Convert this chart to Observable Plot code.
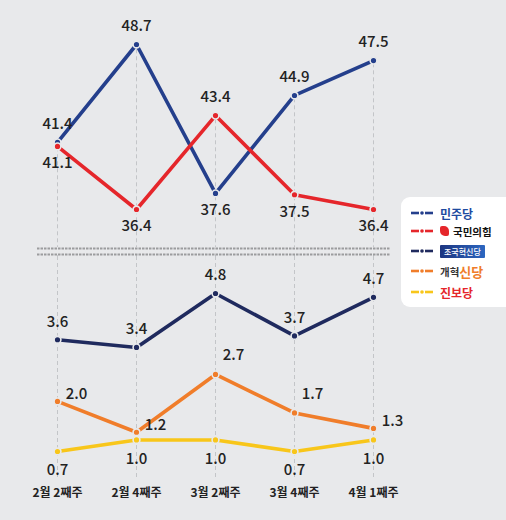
<!DOCTYPE html>
<html>
<head>
<meta charset="utf-8">
<script src="https://cdn.jsdelivr.net/npm/d3@7"></script>
<script src="https://cdn.jsdelivr.net/npm/@observablehq/plot@0.6"></script>
<style>
  body { margin: 0; background: #e8e9eb; font-family: "Noto Sans CJK KR", sans-serif; }
  #chart { position: relative; width: 506px; height: 520px; overflow: hidden; }
  #chart svg.plot { display: block; }
  #brk { position: absolute; left: 0; top: 244px; }
  #legend { position: absolute; left: 401px; top: 197px; width: 115px; height: 110px;
    background: #fff; border-radius: 9px; }
  .row { position: absolute; left: 10px; height: 18px; display: flex; align-items: center; font-weight: 700; }
  .row svg { margin-right: 7px; }
  .logo-box { background: linear-gradient(90deg, #1d3580, #2c66c0); color: #fff; font-size: 8px;
    padding: 1px 4px; border-radius: 1px; font-weight: 500; }
</style>
</head>
<body>
<div id="chart"></div>
<script>
// poll values
const weeks = ["2월 2째주", "2월 4째주", "3월 2째주", "3월 4째주", "4월 1째주"];
const parties = ["민주당", "국민의힘", "조국혁신당", "개혁신당", "진보당"];
const minjoo = [41.4, 48.7, 37.6, 44.9, 47.5];
const ppp = [41.1, 36.4, 43.4, 37.5, 36.4];
const rebuild = [3.6, 3.4, 4.8, 3.7, 4.7];
const reform = [2.0, 1.2, 2.7, 1.7, 1.3];
const progressive = [0.7, 1.0, 1.0, 0.7, 1.0];

const colors = ["#243f8c", "#e5262b", "#1f2a5e", "#f07d2a", "#f8c61a"];
const bg = "#e8e9eb";
const grid = "#c3c5c8";

function rows(party, values) {
  return values.map((v, i) => ({week: weeks[i], party, value: v, i}));
}

// top panel: the two big parties, label on the outside of each pair
const topRows = [...rows("민주당", minjoo), ...rows("국민의힘", ppp)];
topRows.forEach(d => {
  const other = d.party === "민주당" ? ppp[d.i] : minjoo[d.i];
  d.above = d.value >= other;
});
const bottomRows = [...rows("조국혁신당", rebuild), ...rows("개혁신당", reform), ...rows("진보당", progressive)];

const color = {domain: parties, range: colors};
const x = {type: "point", domain: weeks, range: [57, 373], padding: 0, axis: null};
const label = {fill: "#222", fontSize: 15, fontWeight: 500, text: d => d.value.toFixed(1)};

const chart = document.getElementById("chart");

const topPlot = Plot.plot({
  width: 400, height: 256,
  marginLeft: 37, marginRight: 10, marginTop: 0, marginBottom: 0,
  x, color,
  y: {domain: [36.4, 48.7], range: [209, 44], axis: null},
  style: {background: "transparent", overflow: "visible", fontFamily: "Noto Sans CJK KR"},
  marks: [
    // from the column's highest point down (zero baseline, clipped at panel edge)
    Plot.ruleX(weeks, {x: d => d, y: (d, i) => Math.max(minjoo[i], ppp[i]), clip: true, stroke: grid, strokeDasharray: "4,3"}),
    Plot.line(topRows, {x: "week", y: "value", stroke: "party", strokeWidth: 3.6}),
    Plot.dot(topRows, {x: "week", y: "value", fill: "party", r: 3.4, stroke: bg, strokeWidth: 1.6}),
    Plot.text(topRows, {filter: d => d.above, x: "week", y: "value", dy: -18, ...label}),
    Plot.text(topRows, {filter: d => !d.above, x: "week", y: "value", dy: 17, ...label})
  ]
});

const bottomPlot = Plot.plot({
  width: 400, height: 264,
  marginLeft: 37, marginRight: 10, marginTop: 0, marginBottom: 42,
  x, color,
  y: {domain: [0.7, 4.8], range: [195, 37], axis: null},
  style: {background: "transparent", overflow: "visible", fontFamily: "Noto Sans CJK KR"},
  marks: [
    Plot.ruleX(weeks, {x: d => d, stroke: grid, strokeDasharray: "4,3"}),
    Plot.line(bottomRows, {x: "week", y: "value", stroke: "party", strokeWidth: 3.6}),
    Plot.dot(bottomRows, {x: "week", y: "value", fill: "party", r: 3.4, stroke: bg, strokeWidth: 1.6}),
    Plot.text(bottomRows, {filter: d => d.party === "조국혁신당", x: "week", y: "value", dy: -18, ...label}),
    Plot.text(bottomRows, {filter: d => d.party === "진보당", x: "week", y: "value", dy: 19, ...label}),
    Plot.text(bottomRows, {filter: d => d.party === "개혁신당" && (d.i === 2 || d.i === 3), x: "week", y: "value", dx: 18, dy: -19, ...label}),
    Plot.text(bottomRows, {filter: d => d.party === "개혁신당" && !(d.i === 2 || d.i === 3), x: "week", y: "value", dx: 19, dy: -7, ...label}),
    Plot.text(weeks, {x: d => d, frameAnchor: "bottom", dy: 18, fill: "#222", fontSize: 12, fontWeight: 700})
  ]
});

chart.appendChild(topPlot);
chart.appendChild(bottomPlot);

// axis break: double dashed rule between the two panels
chart.insertAdjacentHTML("beforeend",
  `<svg id="brk" width="400" height="16">
     <rect x="37" y="3" width="353" height="8" fill="${bg}"/>
     <line x1="37" x2="390" y1="4.5" y2="4.5" stroke="#9b9c9e" stroke-width="1.8" stroke-dasharray="2.5,1"/>
     <line x1="37" x2="390" y1="10.5" y2="10.5" stroke="#9b9c9e" stroke-width="1.8" stroke-dasharray="2.5,1"/>
   </svg>`);

// legend with the party marks
function key(c) {
  return `<svg width="22" height="6"><line x1="0" x2="8" y1="3" y2="3" stroke="${c}" stroke-width="2.6"/>` +
    `<circle cx="11" cy="3" r="1.8" fill="${c}"/><line x1="14" x2="22" y1="3" y2="3" stroke="${c}" stroke-width="2.6"/></svg>`;
}
const names = [
  `<span style="color:#1e4aa0;font-size:12px">${parties[0]}</span>`,
  `<span style="display:inline-block;width:9px;height:10px;background:#e5262b;border-radius:2px 5px 2px 5px;margin-right:4px"></span><span style="font-size:10.5px;color:#111">${parties[1]}</span>`,
  `<span class="logo-box">${parties[2]}</span>`,
  `<span style="font-size:10.5px;color:#333">개혁</span><span style="font-size:13px;color:#f07d2a">신당</span>`,
  `<span style="color:#e5262b;font-size:12px">${parties[4]}</span>`
];
const rowTops = [7, 25, 45, 65, 86];
chart.insertAdjacentHTML("beforeend",
  `<div id="legend">${parties.map((p, k) =>
    `<div class="row" style="top:${rowTops[k]}px">${key(colors[k])}${names[k]}</div>`).join("")}</div>`);
</script>
</body>
</html>
